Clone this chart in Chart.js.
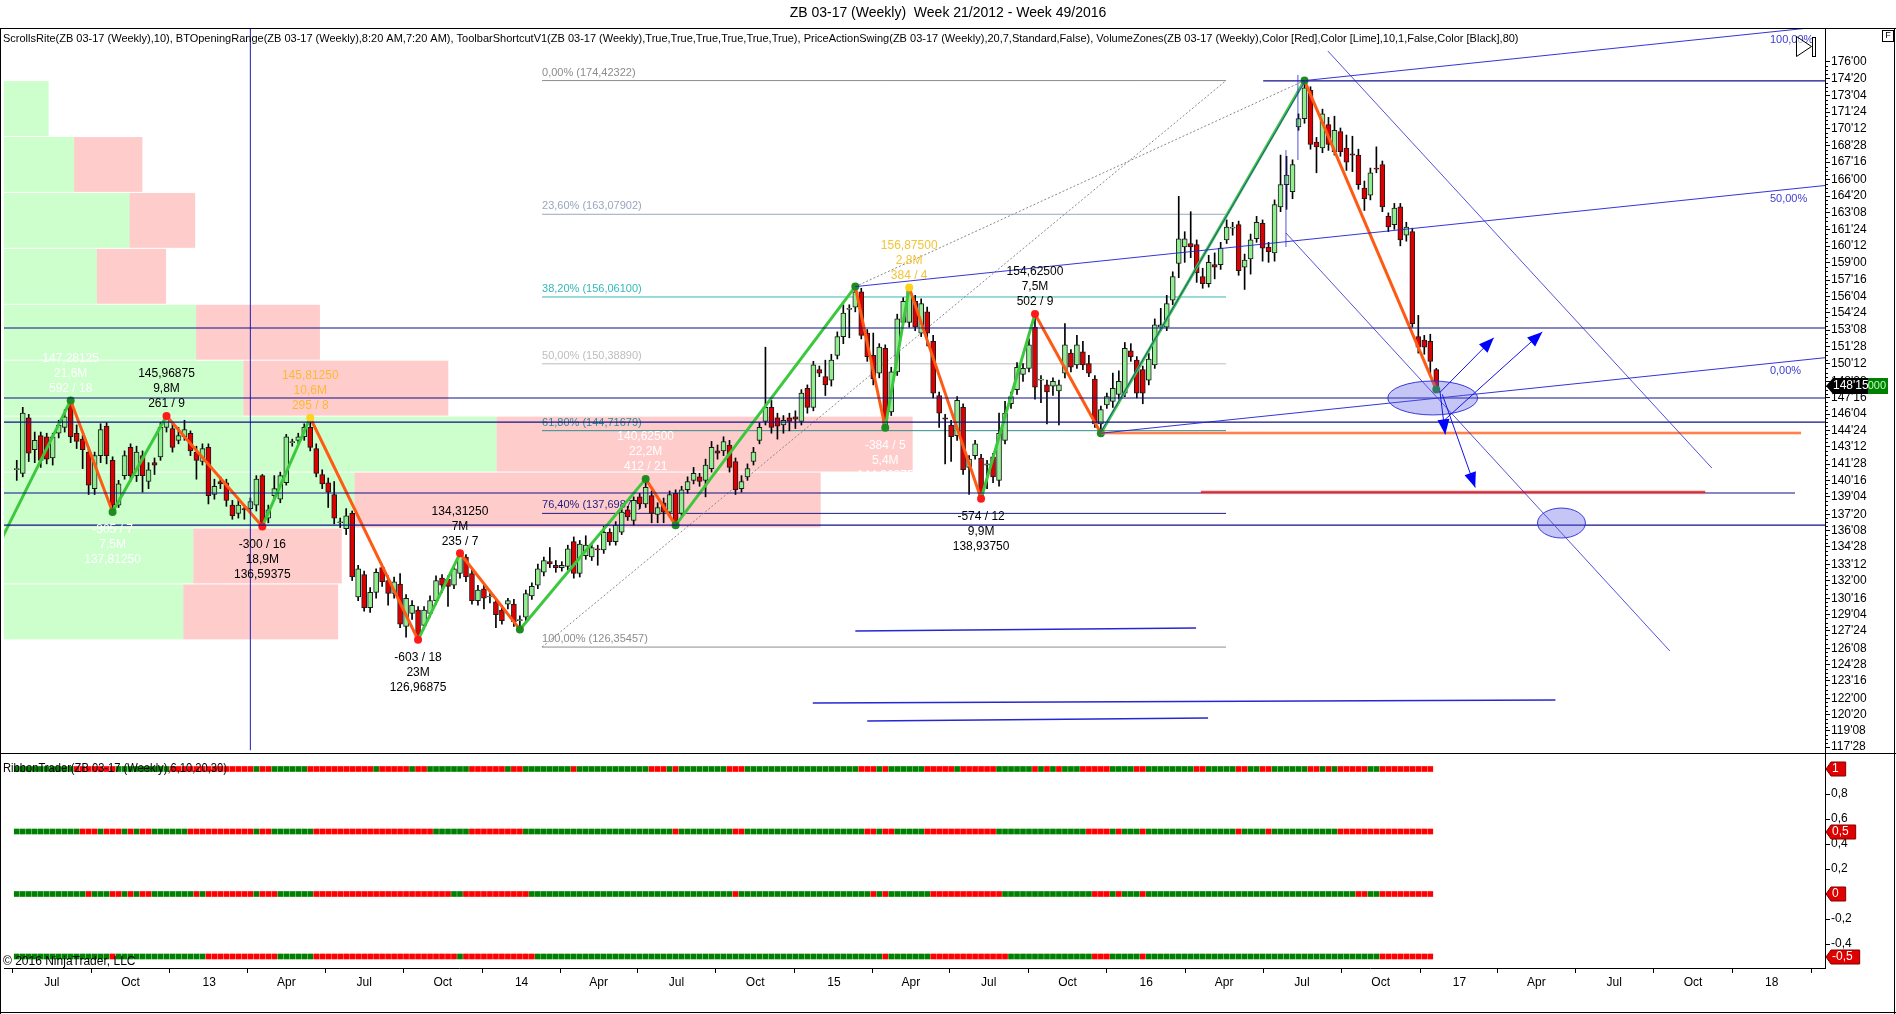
<!DOCTYPE html>
<html lang="en">
<head>
<meta charset="UTF-8">
<title>ZB 03-17 (Weekly) Week 21/2012 - Week 49/2016</title>
<script src="https://cdn.jsdelivr.net/npm/chart.js"></script>
<style>
  html, body { margin: 0; padding: 0; background: #fff; }
  canvas { display: block; }
</style>
</head>
<body>
<canvas id="chart" width="1896" height="1014"></canvas>
<script>
// ---- data ----
const startDate = '2012-05-21'; // week 21/2012, first bar

const opens = [
  141.4,141.1,145.8,143.1,144.3,144.2,142.4,144.5,145.0,147.0,
  144.5,144.0,142.9,139.8,142.6,145.1,142.2,138.4,140.9,143.3,
  140.9,142.6,140.4,142.0,142.5,145.0,144.9,143.9,144.2,144.5,
  142.9,142.1,143.3,139.3,140.4,140.3,138.4,137.7,138.1,138.1,
  138.4,140.9,137.3,139.2,138.9,140.3,143.7,143.9,144.2,145.0,
  143.2,141.0,140.3,139.3,136.9,136.4,137.7,130.6,132.5,129.7,
  131.0,133.1,132.0,130.9,131.7,128.1,129.2,129.5,128.2,129.2,
  130.3,132.2,132.1,131.6,132.6,134.0,132.6,130.3,131.3,130.6,
  130.2,129.5,130.0,130.0,128.6,128.9,130.7,131.6,132.7,133.6,
  133.3,133.1,133.2,135.3,132.6,134.1,134.0,134.7,134.6,136.1,
  135.3,136.1,138.0,137.1,139.1,138.5,139.2,137.6,138.6,137.8,
  139.4,137.7,139.7,140.5,140.8,140.5,141.5,143.0,143.0,143.5,
  142.1,139.8,140.8,142.1,143.9,145.5,146.7,145.8,145.2,145.8,
  145.9,145.5,148.3,146.7,149.9,149.3,149.0,151.1,152.7,155.0,
  155.2,156.5,153.0,151.1,149.6,151.7,146.3,149.7,153.9,153.9,
  155.7,153.0,154.8,152.3,147.7,145.8,145.2,144.3,146.7,141.6,
  142.6,142.4,141.8,142.5,140.5,143.9,147.0,148.2,149.5,150.0,
  153.5,149.0,148.6,148.5,148.1,149.6,151.3,150.3,151.4,150.4,
  149.1,145.3,146.9,147.2,147.8,147.9,151.5,150.7,149.9,149.0,
  150.3,153.5,153.5,155.8,158.9,160.3,160.6,160.5,157.8,157.2,
  158.8,158.8,160.9,161.9,162.2,158.6,159.3,161.0,162.3,160.3,
  159.8,163.7,165.6,165.0,170.5,171.2,173.6,169.2,168.7,170.7,
  168.4,170.1,168.7,168.2,168.1,165.3,164.7,167.0,167.3,162.9,
  162.2,163.7,161.3,161.6,152.7,152.4,152.3,149.9
];
const closes = [
  141.5,146.2,142.8,143.9,142.2,142.3,144.2,145.2,145.9,144.2,
  143.8,143.1,140.1,142.6,144.8,142.6,138.4,140.2,142.6,140.9,
  142.9,140.9,141.4,141.8,145.0,145.9,143.3,144.3,144.8,143.0,
  142.2,143.2,139.2,140.0,140.2,138.8,137.5,138.4,138.0,138.7,
  140.6,136.9,138.0,139.8,140.9,144.2,143.8,144.2,145.0,143.3,
  141.1,140.2,139.5,137.3,136.9,137.5,132.3,133.0,129.7,131.0,
  132.7,131.9,130.9,131.9,128.3,130.5,129.9,127.2,129.5,130.3,
  132.0,131.6,131.5,133.0,134.2,132.3,130.3,131.2,130.5,130.6,
  129.1,128.6,130.3,128.5,128.6,130.9,131.5,133.0,133.7,133.4,
  133.1,133.3,134.7,132.6,135.1,135.0,134.8,134.6,136.1,135.3,
  136.7,137.8,137.4,138.8,138.5,139.9,137.7,138.2,137.8,139.3,
  136.8,139.7,140.4,141.1,140.4,141.8,143.3,142.8,143.8,141.6,
  139.7,140.4,141.5,142.9,145.0,146.7,145.0,145.1,145.6,145.5,
  145.7,147.9,146.7,150.3,149.6,148.6,150.7,152.7,154.7,155.1,
  156.5,152.8,151.0,149.1,151.8,145.0,149.7,154.2,155.7,156.8,
  153.5,155.5,153.0,147.9,146.2,145.7,144.2,147.3,141.4,142.3,
  143.6,139.2,141.9,140.8,144.5,146.2,147.6,150.1,150.0,152.0,
  148.4,149.0,148.0,148.9,148.6,152.0,150.1,152.0,150.3,149.6,
  145.3,146.5,147.6,148.3,148.9,151.7,151.0,147.9,147.9,150.8,
  153.7,153.7,155.5,157.8,161.0,161.0,160.3,158.1,157.2,159.0,
  158.6,160.2,162.0,161.9,158.3,159.2,160.9,162.4,160.2,159.9,
  163.9,165.6,166.4,167.3,171.2,173.8,169.0,168.8,171.6,169.0,
  170.2,168.4,167.5,168.1,165.6,164.4,166.6,166.9,163.7,162.0,
  163.6,160.9,162.0,153.8,151.8,151.8,150.6,148.47
];
const highs = [
  142.2,146.7,146.1,144.6,144.6,144.5,144.5,145.6,146.5,147.28,
  145.2,144.3,143.3,142.9,145.3,145.4,142.5,140.5,143.0,143.6,
  143.4,143.0,142.0,142.4,145.4,145.97,145.3,145.0,145.6,144.7,
  143.4,143.6,143.6,140.6,140.8,140.6,138.8,138.8,138.4,139.0,
  140.9,141.0,138.4,140.9,141.2,144.4,144.0,144.5,145.3,145.81,
  143.6,141.4,140.7,140.4,137.3,138.1,137.9,133.3,132.8,131.4,
  133.0,133.4,132.4,132.3,132.6,130.8,130.3,129.8,129.8,130.7,
  132.4,132.5,132.4,133.3,134.31,134.2,132.9,131.6,131.7,130.9,
  130.5,129.9,130.5,130.4,129.0,131.2,131.8,133.4,134.0,134.8,
  133.7,133.6,135.0,135.7,135.4,135.8,135.2,135.0,136.6,136.4,
  137.0,138.1,138.3,139.1,139.4,140.625,139.6,138.6,139.0,139.6,
  139.7,140.0,140.8,141.6,141.1,142.3,143.8,143.5,144.2,143.9,
  142.4,140.9,141.9,143.3,145.4,151.8,147.3,146.2,146.0,146.2,
  146.4,148.2,148.6,150.6,150.2,150.7,151.2,153.1,155.4,155.4,
  156.94,156.8,153.3,153.0,152.1,152.0,150.1,154.6,156.0,156.875,
  156.2,155.9,155.2,152.8,148.0,146.1,145.6,147.6,147.0,142.6,
  143.9,142.7,142.2,142.8,146.2,147.2,148.0,150.5,150.4,152.5,
  154.625,149.4,149.0,149.2,149.0,153.8,151.6,152.8,152.3,151.1,
  149.4,146.8,147.9,149.6,149.8,152.2,152.1,151.0,150.2,151.3,
  154.2,155.1,156.2,158.2,164.6,161.6,163.3,160.9,158.5,159.6,
  159.8,160.7,162.6,162.4,162.5,159.7,161.4,162.9,162.6,160.7,
  164.3,168.1,168.0,167.7,171.6,174.42,173.9,169.6,172.0,171.3,
  171.4,170.4,169.8,169.7,168.6,165.9,167.0,168.8,167.6,163.2,
  164.0,164.0,162.4,161.9,154.5,152.8,152.9,150.0
];
const lows = [
  140.5,140.8,142.1,142.0,141.6,141.9,141.8,144.1,144.6,143.7,
  143.2,141.5,139.3,139.3,142.0,141.9,137.81,138.2,140.6,140.4,
  140.4,139.5,139.8,141.0,142.2,144.6,142.9,143.6,143.9,142.6,
  140.6,141.8,138.5,138.9,139.8,138.3,137.2,137.3,137.2,137.8,
  137.9,136.59,136.9,138.9,138.6,140.1,143.4,143.6,143.9,143.0,
  140.8,139.8,138.2,136.8,136.5,135.9,132.0,130.3,129.4,129.3,
  130.5,131.5,129.9,130.5,128.0,127.2,128.7,126.97,127.9,128.9,
  130.0,131.0,129.8,131.3,132.2,131.9,130.0,129.9,129.6,130.1,
  128.0,128.3,129.6,128.1,127.85,128.5,130.4,131.3,132.4,133.1,
  132.7,132.8,132.9,132.2,132.3,133.8,133.7,133.3,134.3,135.0,
  135.0,135.9,137.1,136.7,138.1,138.2,136.9,136.9,136.9,137.4,
  136.7,137.5,139.4,140.2,140.0,139.1,141.2,142.3,142.6,141.2,
  139.3,139.5,140.5,141.8,143.6,145.2,144.5,144.0,144.5,144.7,
  144.9,145.2,146.2,146.4,149.3,147.7,148.5,150.8,152.1,152.6,
  154.8,152.5,150.6,148.6,149.2,144.96,146.0,149.4,153.6,153.5,
  153.2,152.7,151.9,147.5,145.0,141.9,142.1,143.9,141.0,139.3,
  142.3,138.94,139.8,140.3,140.0,143.6,146.6,147.8,148.9,149.7,
  147.4,147.1,145.3,147.7,145.2,149.2,149.7,150.0,149.9,149.3,
  145.0,144.5,146.6,146.7,147.4,147.6,150.6,147.5,147.0,148.6,
  150.0,153.2,153.2,155.4,157.7,159.0,159.4,157.3,156.8,156.9,
  157.6,158.4,160.6,161.3,157.9,156.7,158.0,160.7,159.1,159.0,
  159.1,163.3,163.5,164.4,170.2,170.8,168.6,166.6,168.3,168.5,
  168.1,168.0,166.8,166.7,165.2,163.4,164.3,166.6,163.3,161.6,
  161.8,160.4,160.8,153.5,151.3,151.2,149.4,148.2
];

// PriceActionSwing zigzag
const swingBars   = [-5, 9, 16, 25, 41, 49, 67, 74, 84, 105, 110, 140, 145, 149, 161, 170, 181, 215, 237];
const swingPrices = [133.0, 147.28125, 137.8125, 145.96875, 136.59375, 145.8125, 126.96875, 134.3125, 127.85,
                     140.625, 136.7, 156.94, 144.96875, 156.875, 138.9375, 154.625, 144.5, 174.42322, 148.2];
const swingDots   = ['g','g','g','r','r','y','r','r','g','g','g','g','g','y','r','r','g','g','g'];
const swingText = [
  null,
  ['147,28125', '21,6M', '592 / 18'],
  ['-305 / 7', '7,5M', '137,81250'],
  ['145,96875', '9,8M', '261 / 9'],
  ['-300 / 16', '18,9M', '136,59375'],
  ['145,81250', '10,6M', '295 / 8'],
  ['-603 / 18', '23M', '126,96875'],
  ['134,31250', '7M', '235 / 7'],
  null,
  ['140,62500', '22,2M', '412 / 21'],
  null, null,
  ['-384 / 5', '5,4M', '144,96875'],
  ['156,87500', '2,8M', '384 / 4'],
  ['-574 / 12', '9,9M', '138,93750'],
  ['154,62500', '7,5M', '502 / 9'],
  null, null, null
];
const swingTextColors = ['#000','#fff','#fff','#000','#000','#ffb733','#000','#000','#000','#fff',
                         '#000','#000','#fff','#f2c438','#000','#000','#000','#000','#000'];

// VolumeZones (10 bins between the range low and high, bottom to top)
const zoneLow = 126.96875, zoneHigh = 174.42322;
const zoneUpVol   = [19.7, 20.8, 38.5, 54.1, 26.3, 21.1, 10.2, 13.8, 7.7, 4.9];
const zoneDownVol = [17.0, 16.3, 51.2, 45.7, 22.5, 13.6, 7.6, 7.2, 7.5, 0];
const zoneScaleMax = 200;

// Fibonacci retracement
const fibLevels = ['0,00%', '23,60%', '38,20%', '50,00%', '61,80%', '76,40%', '100,00%'];
const fibPrices = [174.42322, 163.07902, 156.061, 150.3889, 144.71679, 137.69877, 126.35457];
const fibColors = ['#8c8c8c', '#9aa6bf', '#35b8b8', '#bdbdbd', '#2f8f8f', '#1c1c80', '#8c8c8c'];
const fibFrom = 87.7, fibTo = 201.9;

// hand-drawn objects: [bar, price, bar, price]
const navyLines = [[-3,153.43,303,153.43],[-3,147.49,303,147.49],[-3,145.45,303,145.45],
                   [-3,139.43,296.9,139.43],[-3,136.71,303,136.71],[208.1,174.39,303,174.39]];
const channelAnchors = [[215,174.42322],[140,156.94],[181,144.5]];
const channelNames = ['100,00%', '50,00%', '0,00%'];
const channelSlope = 0.053;
const diagLines = [[218.9,176.93,283.0,141.55],[211.9,161.49,276.0,126.02],
                   [213.9,174.90,213.9,167.68],[211.9,168.53,211.9,160.30],[181,144.6,215,174.3]];
const floorLines = [[140.0,127.72,196.9,127.97],[132.9,121.61,256.9,121.86],[142.0,120.08,198.9,120.33]];
const dottedLines = [[87.7,126.35457,201.9,174.42322],[140,156.94,215,174.42322]];
const orangeLevel = [181, 144.52, 297.9];
const redLevel = [197.7, 139.5, 281.9];
const cursorBar = 39.0;
const arrows = [[237.6,147.96,246.6,152.6],[238.0,145.45,254.7,153.1],[237.6,148.1,238.5,144.4],[238,147.8,243.5,139.9]];
const ellipses = [[236.4,147.49,7.5,1.44],[257.9,136.88,4,1.27]];

// axes
const priceTickLabels = ["176'00","174'20","173'04","171'24","170'12","168'28","167'16","166'00","164'20","163'08",
  "161'24","160'12","159'00","157'16","156'04","154'24","153'08","151'28","150'12","148'28","147'16",
  "146'04","144'24","143'12","141'28","140'16","139'04","137'20","136'08","134'28","133'12","132'00",
  "130'16","129'04","127'24","126'08","124'28","123'16","122'00","120'20","119'08","117'28"];
const quarterDates = ['2012-07-01','2012-10-01','2013-01-01','2013-04-01','2013-07-01','2013-10-01',
  '2014-01-01','2014-04-01','2014-07-01','2014-10-01','2015-01-01','2015-04-01','2015-07-01','2015-10-01',
  '2016-01-01','2016-04-01','2016-07-01','2016-10-01','2017-01-01','2017-04-01','2017-07-01','2017-10-01','2018-01-01'];
const quarterLabels = ['Jul','Oct','13','Apr','Jul','Oct','14','Apr','Jul','Oct','15','Apr','Jul','Oct',
  '16','Apr','Jul','Oct','17','Apr','Jul','Oct','18'];

// RibbonTrader rows: alternating run lengths, starting with green
const ribbonLevels = [1, 0.5, 0, -0.5];
const ribbonTags = ['1', '0,5', '0', '-0,5'];
const ribbonRuns1 = [10,7,9,14,1,2,6,11,1,5,1,2,7,6,1,2,8,1,12,3,1,1,8,3,19,3,1,1,6,5,1,6,6,
                     1,1,1,1,1,3,5,4,2,8,2,5,2,2,2,6,2,1,1,1,5,2,9];
const ribbonRuns2 = [11,3,1,3,1,1,1,2,6,11,1,2,7,20,6,9,25,1,9,2,20,2,1,2,5,12,15,4,1,1,3,1,15,1,4,1,11,16];
const ribbonRuns3 = [12,1,3,2,1,1,1,2,7,1,1,8,1,3,6,23,2,11,34,1,22,1,1,1,7,12,15,3,1,1,3,1,35,2,2,9];
const ribbonRuns4 = [16,1,15,12,6,24,1,12,58,1,7,13,14,3,5,1,39,9];
const ribbonTickValues = [1, 0.8, 0.6, 0.4, 0.2, 0, -0.2, -0.4];

// ---- build ----
const FONT = '"Liberation Sans", Arial, sans-serif';
const weekMs = 7 * 864e5;
const quarterIdx = quarterDates.map(d => (Date.parse(d) - Date.parse(startDate)) / weekMs);
const priceTickValues = priceTickLabels.map(s => { const p = s.split("'"); return +p[0] + (+p[1]) / 32; });

function expandRuns(runs) {
  const out = [];
  runs.forEach((n, k) => { for (let j = 0; j < n; j++) out.push(k % 2 === 0 ? '#008000' : '#ff0000'); });
  return out;
}
const ribbonDatasets = [ribbonRuns1, ribbonRuns2, ribbonRuns3, ribbonRuns4].map((runs, r) => {
  const cols = expandRuns(runs);
  const v = ribbonLevels[r];
  return {
    type: 'bar', yAxisID: 'yr', grouped: false, barThickness: 5, order: 3,
    data: cols.map((c, i) => ({x: i, y: [v - 0.02, v + 0.02]})),
    backgroundColor: cols, borderWidth: 0
  };
});

const dotColor = {g: '#1e8c1e', r: '#ff1a1a', y: '#ffd21e'};

function seg(ctx, x1, y1, x2, y2) { ctx.beginPath(); ctx.moveTo(x1, y1); ctx.lineTo(x2, y2); ctx.stroke(); }

const overlay = {
  id: 'overlay',
  beforeDatasetsDraw(chart) {
    const {ctx, chartArea: ca, scales: {x, y}} = chart;
    const X = v => x.getPixelForValue(v), Y = v => y.getPixelForValue(v);
    ctx.save();
    ctx.beginPath(); ctx.rect(ca.left, y.top, ca.right - ca.left, y.bottom - y.top); ctx.clip();
    // volume zones
    const step = (zoneHigh - zoneLow) / zoneUpVol.length;
    const w = (ca.right - ca.left) / zoneScaleMax;
    zoneUpVol.forEach((up, k) => {
      const yb = Y(zoneLow + k * step), yt = Y(zoneLow + (k + 1) * step);
      const x1 = ca.left + up * w, x2 = x1 + zoneDownVol[k] * w;
      ctx.fillStyle = 'rgba(0,255,0,0.2)';
      ctx.fillRect(ca.left, yt + 0.5, x1 - ca.left, yb - yt - 1);
      ctx.fillStyle = 'rgba(255,0,0,0.2)';
      ctx.fillRect(x1, yt + 0.5, x2 - x1, yb - yt - 1);
    });
    // fibonacci
    ctx.font = '11px ' + FONT; ctx.textBaseline = 'middle'; ctx.textAlign = 'left';
    fibPrices.forEach((p, k) => {
      ctx.strokeStyle = fibColors[k]; ctx.lineWidth = 1;
      seg(ctx, X(fibFrom), Y(p), X(fibTo), Y(p));
      ctx.fillStyle = fibColors[k];
      ctx.fillText(fibLevels[k] + ' (' + p.toFixed(5).replace('.', ',') + ')', X(fibFrom), Y(p) - 8);
    });
    ctx.setLineDash([2, 2]); ctx.strokeStyle = '#888';
    dottedLines.forEach(l => seg(ctx, X(l[0]), Y(l[1]), X(l[2]), Y(l[3])));
    ctx.setLineDash([]);
    ctx.restore();
  },
  afterDatasetsDraw(chart) {
    const {ctx, chartArea: ca, scales: {x, y}} = chart;
    const X = v => x.getPixelForValue(v), Y = v => y.getPixelForValue(v);
    ctx.save();
    ctx.beginPath(); ctx.rect(ca.left, y.top, ca.right - ca.left, y.bottom - y.top); ctx.clip();
    // cursor line
    ctx.strokeStyle = '#1c1cb4'; ctx.lineWidth = 1;
    seg(ctx, X(cursorBar), y.top, X(cursorBar), Y(117.6));
    // navy levels
    ctx.strokeStyle = '#10108a'; ctx.lineWidth = 1.2;
    navyLines.forEach(l => seg(ctx, X(l[0]), Y(l[1]), X(l[2]), Y(l[3])));
    // orange and red levels
    ctx.lineWidth = 4; ctx.strokeStyle = 'rgba(255,140,80,0.35)';
    seg(ctx, X(orangeLevel[0]), Y(orangeLevel[1]), X(orangeLevel[2]), Y(orangeLevel[1]));
    ctx.strokeStyle = 'rgba(255,120,120,0.45)';
    seg(ctx, X(redLevel[0]), Y(redLevel[1]), X(redLevel[2]), Y(redLevel[1]));
    ctx.lineWidth = 1.6; ctx.strokeStyle = '#ff6426';
    seg(ctx, X(orangeLevel[0]), Y(orangeLevel[1]), X(orangeLevel[2]), Y(orangeLevel[1]));
    ctx.strokeStyle = '#dc2828';
    seg(ctx, X(redLevel[0]), Y(redLevel[1]), X(redLevel[2]), Y(redLevel[1]));
    // channel
    ctx.lineWidth = 1; ctx.strokeStyle = 'rgba(30,30,215,0.9)';
    channelAnchors.forEach(a => seg(ctx, X(a[0]), Y(a[1]), X(303), Y(a[1] + channelSlope * (303 - a[0]))));
    ctx.strokeStyle = 'rgba(40,40,210,0.8)';
    diagLines.forEach(l => seg(ctx, X(l[0]), Y(l[1]), X(l[2]), Y(l[3])));
    ctx.lineWidth = 1.5; ctx.strokeStyle = '#2626d2';
    floorLines.forEach(l => seg(ctx, X(l[0]), Y(l[1]), X(l[2]), Y(l[3])));
    // ellipses
    ellipses.forEach(e => {
      const cx = X(e[0]), cy = Y(e[1]);
      ctx.beginPath();
      ctx.ellipse(cx, cy, Math.abs(X(e[0] + e[2]) - cx), Math.abs(Y(e[1] + e[3]) - cy), 0, 0, Math.PI * 2);
      ctx.fillStyle = 'rgba(90,90,230,0.35)'; ctx.fill();
      ctx.lineWidth = 1; ctx.strokeStyle = 'rgba(40,40,220,0.9)'; ctx.stroke();
    });
    // arrows
    arrows.forEach(a => {
      const x1 = X(a[0]), y1 = Y(a[1]), x2 = X(a[2]), y2 = Y(a[3]);
      const ang = Math.atan2(y2 - y1, x2 - x1);
      ctx.strokeStyle = '#1414e6'; ctx.lineWidth = 1;
      seg(ctx, x1, y1, x2, y2);
      ctx.beginPath();
      ctx.moveTo(x2, y2);
      ctx.lineTo(x2 - 15 * Math.cos(ang) + 6 * Math.sin(ang), y2 - 15 * Math.sin(ang) - 6 * Math.cos(ang));
      ctx.lineTo(x2 - 15 * Math.cos(ang) - 6 * Math.sin(ang), y2 - 15 * Math.sin(ang) + 6 * Math.cos(ang));
      ctx.closePath(); ctx.fillStyle = '#0000ff'; ctx.fill();
    });
    // channel labels
    ctx.font = '11px ' + FONT; ctx.textBaseline = 'middle'; ctx.textAlign = 'left';
    ctx.fillStyle = 'rgba(40,40,200,0.9)';
    channelAnchors.forEach((a, k) => {
      const bx = 292.7;
      ctx.fillText(channelNames[k], X(bx), Y(a[1] + channelSlope * (bx - a[0])) + 8);
    });
    // swing texts
    ctx.font = '12px ' + FONT; ctx.textAlign = 'center';
    swingText.forEach((lines, k) => {
      if (!lines) return;
      const px = X(swingBars[k]), py = Y(swingPrices[k]);
      const high = swingPrices[k] > swingPrices[k - 1];
      ctx.fillStyle = swingTextColors[k];
      lines.forEach((t, j) => ctx.fillText(t, px, high ? py - 42 + j * 15 : py + 18 + j * 15));
    });
    ctx.restore();
  },
  afterDraw(chart) {
    const {ctx, chartArea: ca, scales: {y, yr}} = chart;
    ctx.save();
    ctx.fillStyle = '#000'; ctx.textBaseline = 'middle';
    ctx.font = '14px ' + FONT; ctx.textAlign = 'center';
    ctx.fillText('ZB 03-17 (Weekly)  Week 21/2012 - Week 49/2016', 948, 13);
    ctx.font = '11px ' + FONT; ctx.textAlign = 'left';
    ctx.fillText('ScrollsRite(ZB 03-17 (Weekly),10), BTOpeningRange(ZB 03-17 (Weekly),8:20 AM,7:20 AM), ' +
      'ToolbarShortcutV1(ZB 03-17 (Weekly),True,True,True,True,True,True), PriceActionSwing(ZB 03-17 (Weekly),20,7,Standard,False), ' +
      'VolumeZones(ZB 03-17 (Weekly),Color [Red],Color [Lime],10,1,False,Color [Black],80)', 3, 39, 1518);
    ctx.font = '12px ' + FONT;
    ctx.fillText('RibbonTrader(ZB 03-17 (Weekly),6,10,20,30)', 3, yr.getPixelForValue(1), 224);
    ctx.fillText('\u00a9 2016 NinjaTrader, LLC', 3, 962);
    // frame and separators
    ctx.strokeStyle = '#000'; ctx.lineWidth = 1;
    seg(ctx, 0, 28.5, 1896, 28.5);
    seg(ctx, 0, y.bottom + 0.5, 1896, y.bottom + 0.5);
    seg(ctx, 0.5, 28, 0.5, 1014);
    seg(ctx, 1894.5, 28, 1894.5, 1014);
    seg(ctx, 0, 1012.5, 1896, 1012.5);
    // minor ticks on the price axis
    for (let k = 0; k < priceTickValues.length - 1; k++) {
      for (let m = 1; m < 4; m++) {
        const py = Math.round(y.getPixelForValue(priceTickValues[k] + (priceTickValues[k + 1] - priceTickValues[k]) * m / 4)) + 0.5;
        seg(ctx, ca.right, py, ca.right + 3, py);
      }
    }
    // last price tags
    const lp = Math.round(y.getPixelForValue(closes[closes.length - 1]));
    ctx.fillStyle = '#008000'; ctx.fillRect(1836, lp - 8, 52, 16);
    ctx.fillStyle = '#b8ffb8'; ctx.font = '11px ' + FONT; ctx.textAlign = 'right';
    ctx.fillText('148,5000', 1886, lp);
    ctx.beginPath();
    ctx.moveTo(ca.right + 1, lp); ctx.lineTo(ca.right + 8, lp - 8); ctx.lineTo(ca.right + 43, lp - 8);
    ctx.lineTo(ca.right + 43, lp + 8); ctx.lineTo(ca.right + 8, lp + 8); ctx.closePath();
    ctx.fillStyle = '#000'; ctx.fill();
    ctx.fillStyle = '#fff'; ctx.font = '12px ' + FONT; ctx.textAlign = 'left';
    ctx.fillText("148'15", ca.right + 8, lp);
    // ribbon tags
    ribbonLevels.forEach((v, k) => {
      const ty = Math.round(yr.getPixelForValue(v));
      const tw = ctx.measureText(ribbonTags[k]).width + 10;
      ctx.beginPath();
      ctx.moveTo(ca.right + 1, ty); ctx.lineTo(ca.right + 6, ty - 7); ctx.lineTo(ca.right + 4 + tw, ty - 7);
      ctx.lineTo(ca.right + 4 + tw, ty + 7); ctx.lineTo(ca.right + 6, ty + 7); ctx.closePath();
      ctx.fillStyle = '#e00000'; ctx.fill();
      ctx.strokeStyle = '#800000'; ctx.stroke();
      ctx.fillStyle = '#fff';
      ctx.fillText(ribbonTags[k], ca.right + 7, ty);
    });
    // F box and play icon
    ctx.strokeStyle = '#000'; ctx.lineWidth = 1;
    ctx.strokeRect(1882.5, 30.5, 11, 11);
    ctx.fillStyle = '#000'; ctx.font = '9px ' + FONT; ctx.textAlign = 'center';
    ctx.fillText('F', 1888, 36);
    ctx.beginPath(); ctx.moveTo(1796.5, 36.5); ctx.lineTo(1811.5, 46.5); ctx.lineTo(1796.5, 56.5); ctx.closePath();
    ctx.fillStyle = 'rgba(255,255,255,0.6)'; ctx.fill(); ctx.stroke();
    ctx.strokeRect(1812.5, 37.5, 3, 19);
    ctx.restore();
  }
};

new Chart(document.getElementById('chart'), {
  type: 'bar',
  data: {
    datasets: [
      {
        type: 'line', yAxisID: 'y', order: 0,
        data: swingBars.map((b, k) => ({x: b, y: swingPrices[k]})),
        borderWidth: 3, borderColor: '#3cc83c', tension: 0, fill: false,
        segment: { borderColor: c => c.p1.parsed.y > c.p0.parsed.y ? '#3cc83c' : '#ff5a14' },
        pointRadius: swingBars.map((b, k) => k === 0 ? 0 : 4),
        pointBackgroundColor: swingDots.map(c => dotColor[c]), pointBorderWidth: 0
      },
      {
        type: 'bar', yAxisID: 'y', order: 1, grouped: false, barThickness: 5, minBarLength: 1,
        data: opens.map((o, i) => ({x: i, y: [o, closes[i]]})),
        backgroundColor: opens.map((o, i) => closes[i] >= o ? '#90ee90' : '#dd0000'),
        borderColor: '#1a1a1a', borderWidth: 1, borderSkipped: false
      },
      {
        type: 'bar', yAxisID: 'y', order: 2, grouped: false, barThickness: 1,
        data: highs.map((h, i) => ({x: i, y: [lows[i], h]})),
        backgroundColor: '#000', borderWidth: 0
      },
      ...ribbonDatasets
    ]
  },
  options: {
    responsive: false, animation: false, devicePixelRatio: 1,
    layout: { padding: { left: 1, right: 1, top: 28, bottom: 2 } },
    plugins: { legend: { display: false }, tooltip: { enabled: false } },
    scales: {
      x: {
        type: 'linear', position: 'bottom', min: -2.13, max: 301.9, offset: false,
        grid: { drawOnChartArea: false, tickLength: 5, color: '#000' },
        border: { color: '#000' },
        afterBuildTicks: s => { s.ticks = quarterIdx.map(v => ({value: v})); },
        ticks: { autoSkip: false, maxRotation: 0, padding: 2, color: '#000', font: { family: FONT, size: 12 },
                 callback: (v, i) => quarterLabels[i] },
        afterFit: s => { s.height = 44; }
      },
      y: {
        type: 'linear', position: 'right', stack: 'panes', stackWeight: 725,
        min: 117.366, max: 178.885, beginAtZero: false,
        grid: { drawOnChartArea: false, tickLength: 5, color: '#000' },
        border: { color: '#000' },
        afterBuildTicks: s => { s.ticks = priceTickValues.map(v => ({value: v})); },
        ticks: { autoSkip: false, padding: 1, color: '#000', font: { family: FONT, size: 12 },
                 callback: (v, i) => priceTickLabels[i] },
        afterFit: s => { s.width = 68; }
      },
      yr: {
        type: 'linear', position: 'right', stack: 'panes', stackWeight: 215,
        min: -0.592, max: 1.128, beginAtZero: false,
        grid: { drawOnChartArea: false, tickLength: 5, color: '#000' },
        border: { color: '#000' },
        afterBuildTicks: s => { s.ticks = ribbonTickValues.map(v => ({value: v})); },
        ticks: { autoSkip: false, padding: 1, color: '#000', font: { family: FONT, size: 12 },
                 callback: v => (v === 1 || v === 0) ? '' : String(Math.round(v * 10) / 10).replace('.', ',') },
        afterFit: s => { s.width = 70; }
      }
    }
  },
  plugins: [overlay]
});
</script>
</body>
</html>
